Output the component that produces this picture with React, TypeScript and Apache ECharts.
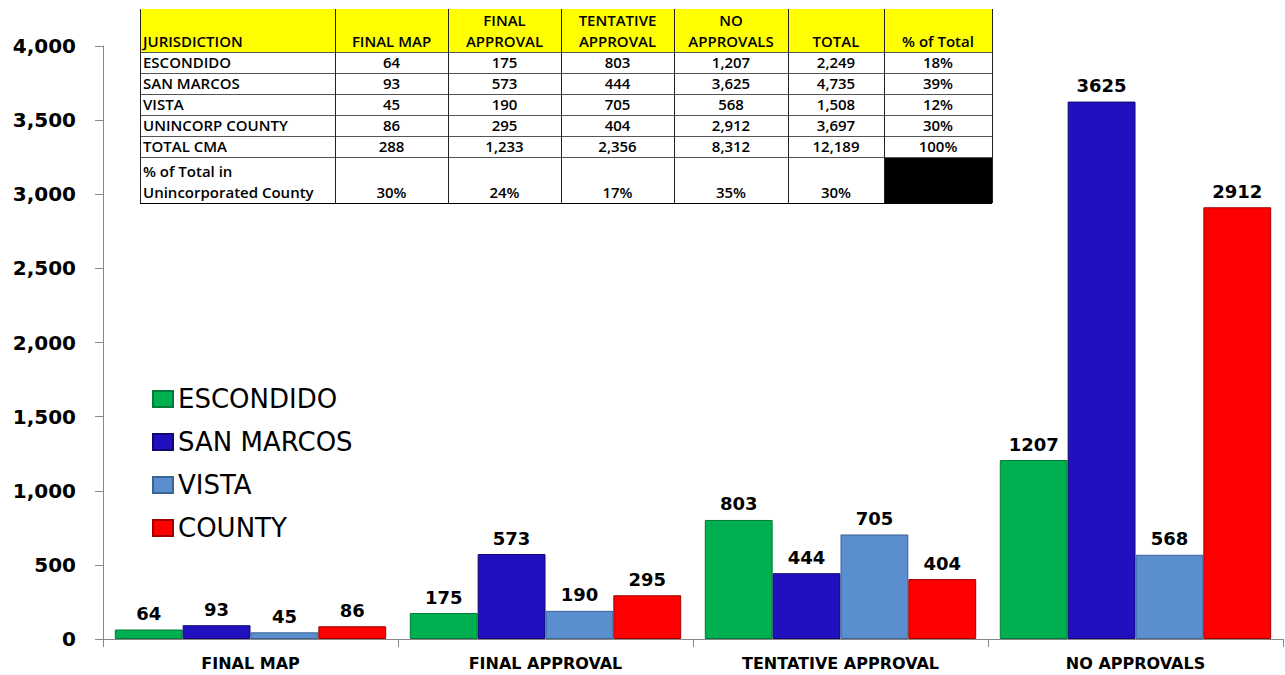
import React, { useEffect, useRef } from "react";
import * as echarts from "echarts";

const categories = ["FINAL MAP", "FINAL APPROVAL", "TENTATIVE APPROVAL", "NO APPROVALS"];
const seriesNames = ["ESCONDIDO", "SAN MARCOS", "VISTA", "COUNTY"];
const escondido = [64, 175, 803, 1207];
const sanMarcos = [93, 573, 444, 3625];
const vista = [45, 190, 705, 568];
const county = [86, 295, 404, 2912];
const seriesValues = [escondido, sanMarcos, vista, county];
const seriesColors = ["#00B050", "#2010BE", "#5B8ECF", "#FF0000"];
const seriesBorders = ["#007A38", "#100870", "#3A6494", "#A00000"];

const tableHeaders = ["JURISDICTION", "FINAL MAP", "FINAL\nAPPROVAL", "TENTATIVE\nAPPROVAL", "NO\nAPPROVALS", "TOTAL", "% of Total"];
const rowEscondido = ["ESCONDIDO", "64", "175", "803", "1,207", "2,249", "18%"];
const rowSanMarcos = ["SAN MARCOS", "93", "573", "444", "3,625", "4,735", "39%"];
const rowVista = ["VISTA", "45", "190", "705", "568", "1,508", "12%"];
const rowCounty = ["UNINCORP COUNTY", "86", "295", "404", "2,912", "3,697", "30%"];
const rowTotal = ["TOTAL CMA", "288", "1,233", "2,356", "8,312", "12,189", "100%"];
const rowPct = ["% of Total in\nUnincorporated County", "30%", "24%", "17%", "35%", "30%", ""];
const tableRows = [rowEscondido, rowSanMarcos, rowVista, rowCounty, rowTotal, rowPct];

const colEdges = [140, 335, 448, 561, 674, 788, 884, 992];
const rowEdges = [9, 52, 73, 94, 115, 136, 157, 203];

function buildTable(): any[] {
  const els: any[] = [];
  els.push({
    type: "rect",
    shape: { x: colEdges[0], y: rowEdges[0], width: colEdges[7] - colEdges[0], height: rowEdges[1] - rowEdges[0] },
    style: { fill: "#FFFF00" },
  });
  els.push({
    type: "rect",
    shape: { x: colEdges[0], y: rowEdges[1], width: colEdges[7] - colEdges[0], height: rowEdges[7] - rowEdges[1] },
    style: { fill: "#FFFFFF" },
  });
  els.push({
    type: "rect",
    shape: { x: colEdges[6], y: rowEdges[6], width: colEdges[7] - colEdges[6], height: rowEdges[7] - rowEdges[6] },
    style: { fill: "#000000" },
  });
  for (let r = 1; r < rowEdges.length; r++) {
    els.push({
      type: "line",
      shape: { x1: colEdges[0], y1: rowEdges[r] + 0.5, x2: colEdges[7], y2: rowEdges[r] + 0.5 },
      style: { stroke: r === 7 ? "#000" : "#555", lineWidth: 1 },
    });
  }
  for (let c = 0; c < colEdges.length; c++) {
    els.push({
      type: "line",
      shape: { x1: colEdges[c] + 0.5, y1: rowEdges[0], x2: colEdges[c] + 0.5, y2: rowEdges[7] },
      style: { stroke: "#222", lineWidth: 1 },
    });
  }
  const font = "'Open Sans', 'Noto Sans', sans-serif";
  const addText = (text: string, c: number, r: number) => {
    const left = c === 0;
    els.push({
      type: "text",
      x: left ? colEdges[c] + 3 : (colEdges[c] + colEdges[c + 1]) / 2,
      y: rowEdges[r + 1] - 1,
      style: {
        text,
        fill: "#000",
        font: `600 15px ${font}`,
        lineHeight: 21,
        align: left ? "left" : "center",
        verticalAlign: "bottom",
      },
    });
  };
  tableHeaders.forEach((h, c) => addText(h, c, 0));
  tableRows.forEach((row, r) => row.forEach((v, c) => { if (v) addText(v, c, r + 1); }));
  return els;
}

export default function App() {
  const ref = useRef<HTMLDivElement>(null);
  useEffect(() => {
    if (!ref.current) return;
    const chart = echarts.init(ref.current, null, { renderer: "svg" });
    const boldFont = "'DejaVu Sans', Verdana, sans-serif";
    chart.setOption({
      animation: false,
      backgroundColor: "#FFFFFF",
      grid: { left: 103, right: 2, top: 46, bottom: 36, containLabel: false },
      legend: {
        orient: "vertical",
        left: 147,
        top: 380,
        itemWidth: 20,
        itemHeight: 16,
        itemGap: 15,
        icon: "rect",
        data: seriesNames,
        textStyle: { fontSize: 26, color: "#000", fontFamily: boldFont, lineHeight: 28 },
      },
      xAxis: {
        type: "category",
        data: categories,
        axisLine: { lineStyle: { color: "#888" } },
        axisTick: { show: true, length: 8, lineStyle: { color: "#888" } },
        axisLabel: { color: "#000", fontSize: 16, fontWeight: "bold", fontFamily: boldFont, margin: 16 },
      },
      yAxis: {
        type: "value",
        min: 0,
        max: 4000,
        interval: 500,
        splitLine: { show: false },
        axisLine: { show: true, lineStyle: { color: "#888" } },
        axisTick: { show: true, length: 8, lineStyle: { color: "#888" } },
        axisLabel: {
          color: "#000",
          fontSize: 20,
          fontWeight: "bold",
          fontFamily: boldFont,
          margin: 27,
          formatter: (v: number) => v.toLocaleString("en-US"),
        },
      },
      series: seriesNames.map((name, i) => ({
        name,
        type: "bar",
        data: seriesValues[i],
        barGap: "0%",
        barCategoryGap: "8%",
        itemStyle: { color: seriesColors[i], borderColor: seriesBorders[i], borderWidth: 1 },
        label: {
          show: true,
          position: "top",
          distance: 7,
          color: "#000",
          fontSize: 18,
          fontWeight: "bold",
          fontFamily: boldFont,
        },
      })),
      graphic: buildTable(),
    });
    return () => chart.dispose();
  }, []);
  return <div ref={ref} style={{ position: "absolute", left: 0, top: 0, width: 1285, height: 675 }} />;
}
